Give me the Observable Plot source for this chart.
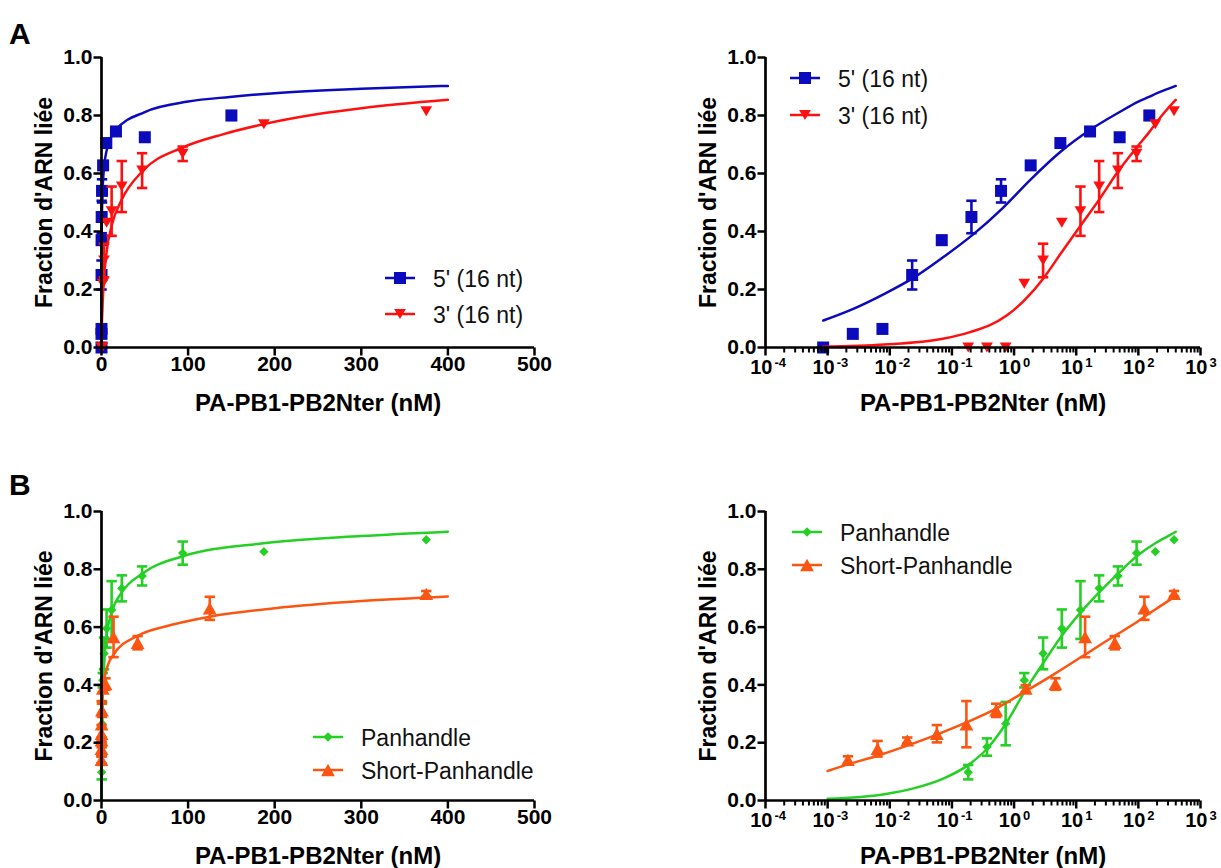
<!DOCTYPE html>
<html><head><meta charset="utf-8">
<script src="https://cdn.jsdelivr.net/npm/d3@7"></script>
<script src="https://cdn.jsdelivr.net/npm/@observablehq/plot@0.6"></script>
<style>
body{margin:0;background:#fff;}
#fig{position:relative;width:1221px;height:868px;font-family:"Liberation Sans",Arial,sans-serif;overflow:hidden;}
.panel{position:absolute;}
#overlay{position:absolute;left:0;top:0;pointer-events:none;}
</style></head><body><div id="fig"></div>
<script>
// ---------- data ----------
// Panel A : 5' (16 nt)  (3-fold dilutions)
const conc5 = [0.000847, 0.00254, 0.00762, 0.0229, 0.0686, 0.206, 0.617, 1.85, 5.56, 16.7, 50, 150];
const frac5 = [0.00, 0.047, 0.064, 0.25, 0.37, 0.45, 0.54, 0.628, 0.705, 0.745, 0.725, 0.80];
const err5  = [0, 0, 0, 0.05, 0.015, 0.056, 0.04, 0.012, 0.008, 0, 0, 0.015];
// Panel A : 3' (16 nt)  (2-fold dilutions)
const conc3 = [0.183, 0.366, 0.732, 1.46, 2.93, 5.86, 11.7, 23.4, 46.9, 93.75, 187.5, 375];
const frac3 = [0.0, 0.0, 0.0, 0.22, 0.30, 0.43, 0.47, 0.555, 0.61, 0.668, 0.77, 0.815];
const err3  = [0, 0, 0, 0, 0.058, 0, 0.085, 0.088, 0.06, 0.025, 0, 0];
// Panel B : Panhandle
const concPan = [0.183, 0.366, 0.732, 1.46, 2.93, 5.86, 11.7, 23.4, 46.9, 93.75, 187.5, 375];
const fracPan = [0.098, 0.185, 0.266, 0.416, 0.509, 0.595, 0.659, 0.734, 0.777, 0.856, 0.861, 0.902];
const errPan  = [0.025, 0.03, 0.075, 0.025, 0.055, 0.066, 0.1, 0.045, 0.033, 0.04, 0, 0];
// Panel B : Short-Panhandle
const concShort = [0.00212, 0.00635, 0.0191, 0.0572, 0.171, 0.514, 1.54, 4.63, 13.9, 41.7, 125, 375];
const fracShort = [0.141, 0.179, 0.208, 0.231, 0.264, 0.312, 0.387, 0.403, 0.566, 0.546, 0.665, 0.715];
const errShort  = [0.012, 0.027, 0.01, 0.03, 0.08, 0.023, 0.012, 0.02, 0.07, 0.023, 0.04, 0.01];

// fitted curves
const fit5X = [0.00085, 0.0027, 0.0082, 0.024, 0.071, 0.22, 0.65, 1.86, 5.6, 16.6, 50, 100, 148, 200, 300, 400];
const fit5Y = [0.093, 0.135, 0.185, 0.24, 0.31, 0.39, 0.48, 0.58, 0.675, 0.75, 0.812, 0.848, 0.864, 0.877, 0.892, 0.902];
const fit3X = [0.00085, 0.0082, 0.071, 0.19, 0.76, 1.5, 3.0, 5.6, 11.7, 23.4, 47, 94, 140, 187, 250, 300, 400];
const fit3Y = [0.003, 0.01, 0.03, 0.052, 0.11, 0.165, 0.24, 0.323, 0.42, 0.51, 0.607, 0.69, 0.735, 0.77, 0.805, 0.825, 0.854];
const fitPanX = [0.001, 0.0082, 0.024, 0.071, 0.19, 0.37, 0.76, 1.46, 2.93, 5.86, 11.7, 23.4, 47, 94, 187, 300, 400];
const fitPanY = [0.006, 0.022, 0.042, 0.075, 0.125, 0.18, 0.27, 0.375, 0.475, 0.57, 0.65, 0.72, 0.785, 0.845, 0.89, 0.915, 0.93];
const fitShortX = [0.001, 0.00212, 0.00635, 0.0191, 0.0572, 0.171, 0.514, 1.54, 4.63, 13.9, 41.7, 80, 125, 200, 300, 400];
const fitShortY = [0.102, 0.125, 0.155, 0.19, 0.228, 0.27, 0.318, 0.378, 0.44, 0.505, 0.57, 0.607, 0.636, 0.665, 0.69, 0.706];

// axes
const yTicks = [0, 0.2, 0.4, 0.6, 0.8, 1.0];
const linTicks = [0, 100, 200, 300, 400, 500];
const decades = [-4, -3, -2, -1, 0, 1, 2, 3];
const xTitle = "PA-PB1-PB2Nter (nM)";
const yTitle = "Fraction d'ARN liée";
const panelTags = ["A", "B"];

// ---------- symbols ----------
const R = s => Math.sqrt(s / Math.PI);
const capSym = {draw(c, s){const r = R(s); c.moveTo(-r, 0); c.lineTo(r, 0);}};
const tickDown = {draw(c, s){const r = R(s); c.moveTo(0, 0); c.lineTo(0, r);}};
const tickLeft = {draw(c, s){const r = R(s); c.moveTo(0, 0); c.lineTo(-r, 0);}};
const squareSym = {draw(c, s){const r = R(s); c.moveTo(-r, -r); c.lineTo(r, -r); c.lineTo(r, r); c.lineTo(-r, r); c.closePath();}};
const triDown = {draw(c, s){const r = R(s); c.moveTo(-r, -0.85*r); c.lineTo(r, -0.85*r); c.lineTo(0, 0.85*r); c.closePath();}};
const triUp = {draw(c, s){const r = R(s); c.moveTo(-r, 0.9*r); c.lineTo(r, 0.9*r); c.lineTo(0, -0.9*r); c.closePath();}};
const diamondSym = {draw(c, s){const r = R(s); c.moveTo(0, -r); c.lineTo(r, 0); c.lineTo(0, r); c.lineTo(-r, 0); c.closePath();}};

const rows = (xs, ys, es) => xs.map((x, i) => ({x, y: ys[i], e: es ? es[i] : 0}));

const seriesA = [
  {name: "5' (16 nt)", color: "#0b0bbd", pts: rows(conc5, frac5, err5), fit: rows(fit5X, fit5Y), symbol: squareSym, r: 6},
  {name: "3' (16 nt)", color: "#ff1010", pts: rows(conc3, frac3, err3), fit: rows(fit3X, fit3Y), symbol: triDown, r: 5.9}
];
const seriesB = [
  {name: "Panhandle", color: "#25d025", pts: rows(concPan, fracPan, errPan), fit: rows(fitPanX, fitPanY), symbol: diamondSym, r: 4.7},
  {name: "Short-Panhandle", color: "#fc5512", pts: rows(concShort, fracShort, errShort), fit: rows(fitShortX, fitShortY), symbol: triUp, r: 6.9}
];

const fig = document.getElementById("fig");
const FONT = "Liberation Sans, Arial, sans-serif";

function panel(p, series) {
  const xmin = p.log ? 1e-4 : 0;
  const marks = [];
  for (const s of series) {
    const withErr = s.pts.filter(d => d.e > 0);
    marks.push(
      Plot.line(s.fit, {x: "x", y: "y", stroke: s.color, strokeWidth: 2.5, curve: "monotone-x"}),
      Plot.ruleX(withErr, {x: "x", y1: d => d.y - d.e, y2: d => d.y + d.e, stroke: s.color, strokeWidth: 2.6}),
      Plot.dot(withErr, {x: "x", y: d => d.y + d.e, symbol: capSym, r: 5.2, stroke: s.color, strokeWidth: 2.6, fill: "none"}),
      Plot.dot(withErr, {x: "x", y: d => d.y - d.e, symbol: capSym, r: 5.2, stroke: s.color, strokeWidth: 2.6, fill: "none"}),
      Plot.dot(s.pts, {x: "x", y: "y", symbol: s.symbol, r: s.r, fill: s.color, stroke: "none"})
    );
  }
  marks.push(
    Plot.ruleY([0], {strokeWidth: 2.7, stroke: "black"}),
    Plot.ruleX([xmin], {strokeWidth: 2.7, stroke: "black"}),
    Plot.dot(yTicks, {y: d => d, frameAnchor: "left", symbol: tickLeft, r: 8, stroke: "black", strokeWidth: 2.5, fill: "none"}),
    Plot.text(yTicks, {y: d => d, frameAnchor: "left", text: d => d.toFixed(1), textAnchor: "end", dx: -9, fontSize: 21, fontWeight: "bold", fill: "black"})
  );
  if (p.log) {
    const all = d3.scaleLog().domain([1e-4, 1e3]).ticks();
    const minor = all.filter(v => Math.abs(Math.log10(v) - Math.round(Math.log10(v))) > 1e-6);
    const major = decades.map(d => Math.pow(10, d));
    marks.push(
      Plot.dot(minor, {x: d => d, frameAnchor: "bottom", symbol: tickDown, r: 5, stroke: "black", strokeWidth: 2, fill: "none"}),
      Plot.dot(major, {x: d => d, frameAnchor: "bottom", symbol: tickDown, r: 8, stroke: "black", strokeWidth: 2.5, fill: "none"}),
      Plot.text(decades, {x: d => Math.pow(10, d), frameAnchor: "bottom", text: () => "10", textAnchor: "end", dx: 7, dy: 26, fontSize: 20, fontWeight: "bold", fill: "black"}),
      Plot.text(decades, {x: d => Math.pow(10, d), frameAnchor: "bottom", text: d => String(d), textAnchor: "start", dx: 9, dy: 19, fontSize: 13, fontWeight: "bold", fill: "black"})
    );
  } else {
    marks.push(
      Plot.dot(linTicks, {x: d => d, frameAnchor: "bottom", symbol: tickDown, r: 8, stroke: "black", strokeWidth: 2.5, fill: "none"}),
      Plot.text(linTicks, {x: d => d, frameAnchor: "bottom", text: d => String(d), dy: 23, fontSize: 21, fontWeight: "bold", fill: "black"})
    );
  }
  marks.push(
    Plot.text([xTitle], {frameAnchor: "bottom", text: d => d, textAnchor: "middle", dy: 63, lineAnchor: "bottom", fontSize: 24, fontWeight: "bold", fill: "black"}),
    Plot.text([yTitle], {frameAnchor: "left", text: d => d, textAnchor: "middle", rotate: -90, dx: -50, lineAnchor: "bottom", fontSize: 23, fontWeight: "bold", fill: "black"})
  );
  const chart = Plot.plot({
    width: p.w, height: p.h,
    marginTop: p.mt, marginBottom: p.mb, marginLeft: p.ml, marginRight: p.mr,
    x: p.log ? {type: "log", domain: [1e-4, 1e3], axis: null} : {type: "linear", domain: [0, 500], axis: null},
    y: {domain: [0, 1], axis: null},
    style: {fontFamily: FONT, background: "transparent", overflow: "visible"},
    marks
  });
  const div = document.createElement("div");
  div.className = "panel";
  div.style.left = p.left + "px";
  div.style.top = p.top + "px";
  div.appendChild(chart);
  fig.appendChild(div);
}

const layout = [
  {left: 0, top: 0, w: 610, h: 430, mt: 57, mb: 83, ml: 101, mr: 76, log: false, series: seriesA, legend: {x: 385, y: 278, gap: 36}},
  {left: 610, top: 0, w: 611, h: 430, mt: 57, mb: 83, ml: 155, mr: 21, log: true, series: seriesA, legend: {x: 790, y: 78, gap: 37}},
  {left: 0, top: 430, w: 610, h: 438, mt: 81, mb: 68, ml: 101, mr: 76, log: false, series: seriesB, legend: {x: 313, y: 737, gap: 33}},
  {left: 610, top: 430, w: 611, h: 438, mt: 81, mb: 68, ml: 155, mr: 21, log: true, series: seriesB, legend: {x: 792, y: 532, gap: 33}}
];
for (const p of layout) panel(p, p.series);

// overlay: panel tags and legends
const ov = d3.select(fig).append("svg").attr("id", "overlay").attr("width", 1221).attr("height", 868)
  .style("font-family", FONT);
ov.append("text").attr("x", 9).attr("y", 44).attr("font-size", 30).attr("font-weight", "bold").text(panelTags[0]);
ov.append("text").attr("x", 9).attr("y", 495).attr("font-size", 30).attr("font-weight", "bold").text(panelTags[1]);
for (const p of layout) {
  const L = p.legend;
  p.series.forEach((s, i) => {
    const y = L.y + i * L.gap;
    const g = ov.append("g");
    g.append("line").attr("x1", L.x).attr("x2", L.x + 30).attr("y1", y).attr("y2", y)
      .attr("stroke", s.color).attr("stroke-width", 2.5);
    g.append("path").attr("transform", `translate(${L.x + 15},${y})`)
      .attr("d", d3.symbol(s.symbol, s.r * s.r * Math.PI)()).attr("fill", s.color);
    g.append("text").attr("x", L.x + 48).attr("y", y + 1).attr("dominant-baseline", "central")
      .attr("font-size", 23).attr("fill", "#111").text(s.name);
  });
}
</script>
</body></html>
